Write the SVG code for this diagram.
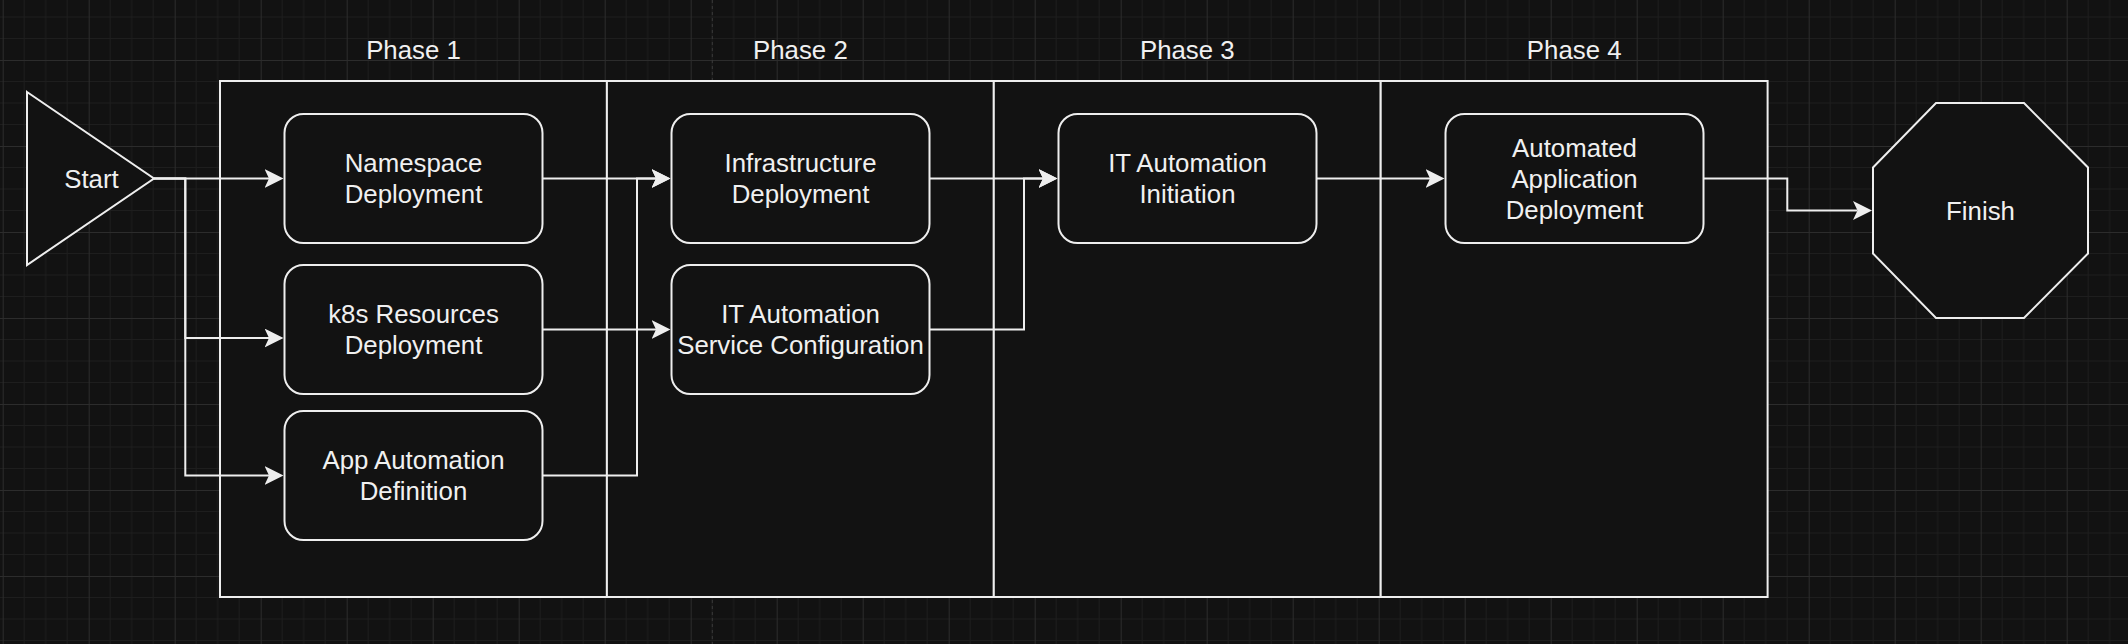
<svg xmlns="http://www.w3.org/2000/svg" width="2128" height="644" viewBox="0 0 2128 644">
  <defs>
    <pattern id="grid" patternUnits="userSpaceOnUse" x="2.7" y="60" width="86" height="86">
      <path d="M21.5,0 V86 M43,0 V86 M64.5,0 V86 M0,21.5 H86 M0,43 H86 M0,64.5 H86" stroke="#1e1e1e" stroke-width="1" fill="none"/>
      <path d="M0.5,0 V86 M0,0.5 H86" stroke="#2c2c2c" stroke-width="1" fill="none"/>
    </pattern>
    <marker id="arrow" markerUnits="userSpaceOnUse" markerWidth="22" markerHeight="22" refX="4.5" refY="9.5" orient="auto">
      <path d="M0,0 L19,9.5 L0,19 L4.5,9.5 Z" fill="#eeeeee"/>
    </marker>
    <style>
      .shape { fill: #121212; stroke: #eeeeee; stroke-width: 2; }
      .lane { fill: #121212; stroke: #eeeeee; stroke-width: 2; }
      .edge { fill: none; stroke: #eeeeee; stroke-width: 2; marker-end: url(#arrow); }
      .edge-plain { fill: none; stroke: #eeeeee; stroke-width: 2; }
      text { font-family: "Liberation Sans", Arial, Helvetica, sans-serif; font-size: 25.8px; fill: #f0f0f0; text-anchor: middle; }
    </style>
  </defs>

  <rect x="0" y="0" width="2128" height="644" fill="#121212"/>
  <rect x="0" y="0" width="2128" height="644" fill="url(#grid)"/>
  <line x1="712.3" y1="0" x2="712.3" y2="644" stroke="#3a3a3a" stroke-width="1" stroke-dasharray="3,3"/>

  <g id="phases">
    <g id="phase1">
      <rect class="lane" x="220" y="81" width="386.9" height="516"/>
      <text x="413.5" y="58.5">Phase 1</text>
    </g>
    <g id="phase2">
      <rect class="lane" x="606.9" y="81" width="386.9" height="516"/>
      <text x="800.4" y="58.5">Phase 2</text>
    </g>
    <g id="phase3">
      <rect class="lane" x="993.8" y="81" width="386.9" height="516"/>
      <text x="1187.3" y="58.5">Phase 3</text>
    </g>
    <g id="phase4">
      <rect class="lane" x="1380.7" y="81" width="386.9" height="516"/>
      <text x="1574.2" y="58.5">Phase 4</text>
    </g>
  </g>

  <g id="connectors">
    <path class="edge" d="M154,178.5 H269"/>
    <path class="edge" d="M154,178.5 H185.3 V338 H269"/>
    <path class="edge" d="M154,178.5 H185.3 V475.5 H269"/>
    <path class="edge" d="M542.5,178.5 H656"/>
    <path class="edge" d="M542.5,475.5 H637 V178.5 H656"/>
    <path class="edge" d="M542.5,329.5 H656"/>
    <path class="edge" d="M929.5,178.5 H1043"/>
    <path class="edge" d="M929.5,329.5 H1024 V178.5 H1043"/>
    <path class="edge" d="M1316.5,178.5 H1430"/>
    <path class="edge" d="M1703.5,178.5 H1787.3 V210.5 H1857.5"/>
  </g>

  <g id="start">
    <polygon class="shape" points="27,92 154,178.5 27,265"/>
    <text x="91.5" y="187.5">Start</text>
  </g>

  <g id="namespace-deployment">
    <rect class="shape" x="284.5" y="114" width="258" height="129" rx="19" ry="19"/>
    <text x="413.5" y="172">Namespace</text>
    <text x="413.5" y="203">Deployment</text>
  </g>

  <g id="k8s-resources-deployment">
    <rect class="shape" x="284.5" y="265" width="258" height="129" rx="19" ry="19"/>
    <text x="413.5" y="323">k8s Resources</text>
    <text x="413.5" y="354">Deployment</text>
  </g>

  <g id="app-automation-definition">
    <rect class="shape" x="284.5" y="411" width="258" height="129" rx="19" ry="19"/>
    <text x="413.5" y="469">App Automation</text>
    <text x="413.5" y="500">Definition</text>
  </g>

  <g id="infrastructure-deployment">
    <rect class="shape" x="671.5" y="114" width="258" height="129" rx="19" ry="19"/>
    <text x="800.5" y="172">Infrastructure</text>
    <text x="800.5" y="203">Deployment</text>
  </g>

  <g id="it-automation-service-configuration">
    <rect class="shape" x="671.5" y="265" width="258" height="129" rx="19" ry="19"/>
    <text x="800.5" y="323">IT Automation</text>
    <text x="800.5" y="354">Service Configuration</text>
  </g>

  <g id="it-automation-initiation">
    <rect class="shape" x="1058.5" y="114" width="258" height="129" rx="19" ry="19"/>
    <text x="1187.5" y="172">IT Automation</text>
    <text x="1187.5" y="203">Initiation</text>
  </g>

  <g id="automated-application-deployment">
    <rect class="shape" x="1445.5" y="114" width="258" height="129" rx="19" ry="19"/>
    <text x="1574.5" y="156.5">Automated</text>
    <text x="1574.5" y="187.5">Application</text>
    <text x="1574.5" y="218.5">Deployment</text>
  </g>

  <g id="finish">
    <polygon class="shape" points="1873,167.5 1936,103 2024,103 2088,167.5 2088,253.5 2024,318 1936,318 1873,253.5"/>
    <text x="1980.5" y="219.5">Finish</text>
  </g>
</svg>
